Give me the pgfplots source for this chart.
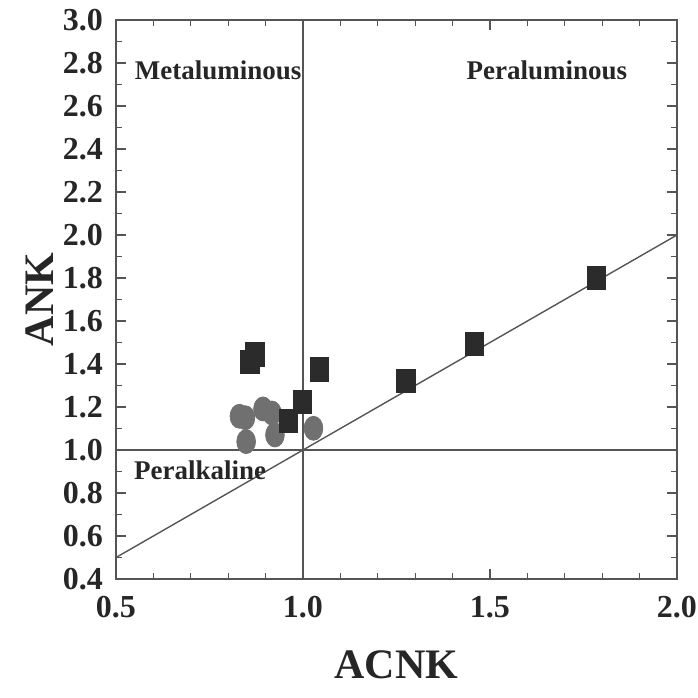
\documentclass[border=0pt]{standalone}
\usepackage{pgfplots}
\pgfplotsset{compat=1.18}
\usepackage{fontspec}
\setmainfont{Liberation Serif}
\definecolor{sqcol}{HTML}{2B2B2B}
\definecolor{circcol}{HTML}{707070}
\definecolor{linecol}{HTML}{555555}
\begin{document}
\begin{tikzpicture}
\path[use as bounding box] (-58pt,-59.5pt) rectangle (291pt,289.5pt);
\begin{axis}[
  at={(0,0)}, anchor=south west,
  width=280.5pt, height=279.5pt, scale only axis,
  xmin=0.5, xmax=2.0, ymin=0.4, ymax=3.0,
  xtick={0.5,1.0,1.5,2.0}, minor x tick num=4,
  ytick={0.4,0.6,0.8,1.0,1.2,1.4,1.6,1.8,2.0,2.2,2.4,2.6,2.8,3.0}, minor y tick num=1,
  tick align=inside, major tick length=5pt, minor tick length=3pt,
  tick style={linecol, line width=0.6pt},
  axis line style={linecol, line width=0.8pt},
  /pgf/number format/assume math mode=true,
  /pgf/number format/fixed, /pgf/number format/fixed zerofill, /pgf/number format/precision=1,
  tick label style={font=\fontsize{16}{16}\selectfont\bfseries, text=black!85},
  yticklabel style={xshift=-3pt},
  xticklabel style={yshift=-5pt},
  xlabel={ACNK}, ylabel={ANK},
  label style={font=\fontsize{21}{21}\selectfont\bfseries, text=black!85},
  xlabel style={at={(axis description cs:0.5,0)}, anchor=center, yshift=-43pt},
  ylabel style={at={(axis description cs:0,0.5)}, anchor=center, rotate=0, xshift=0pt},
  every axis y label/.append style={at={(axis description cs:0,0.5)}, yshift=38pt},
  clip=false,
]
\addplot[linecol, line width=0.7pt] coordinates {(0.5,0.5) (2.0,2.0)};
\addplot[linecol, line width=0.7pt] coordinates {(1.0,0.4) (1.0,3.0)};
\addplot[linecol, line width=0.7pt] coordinates {(0.5,1.0) (2.0,1.0)};

\addplot[only marks, mark=*, mark size=6pt, mark options={xscale=0.78, fill=circcol, draw=circcol}] coordinates {
  (0.830,1.157) (0.846,1.150) (0.893,1.191) (0.917,1.172)
  (0.848,1.039) (0.925,1.070) (1.028,1.101)
};
\addplot[only marks, mark=square*, mark size=5.8pt, mark options={xscale=0.8, fill=sqcol, draw=sqcol}] coordinates {
  (0.858,1.409) (0.872,1.445) (1.044,1.375) (0.998,1.225) (0.961,1.136)
  (1.275,1.322) (1.458,1.492) (1.785,1.799)
};

\node[font=\fontsize{13.5}{13.5}\selectfont\bfseries, text=black!85] at (axis cs:0.773,2.767) {Metaluminous};
\node[font=\fontsize{13.5}{13.5}\selectfont\bfseries, text=black!85] at (axis cs:1.652,2.767) {Peraluminous};
\node[font=\fontsize{13.5}{13.5}\selectfont\bfseries, text=black!85] at (axis cs:0.725,0.907) {Peralkaline};
\end{axis}
\end{tikzpicture}
\end{document}
